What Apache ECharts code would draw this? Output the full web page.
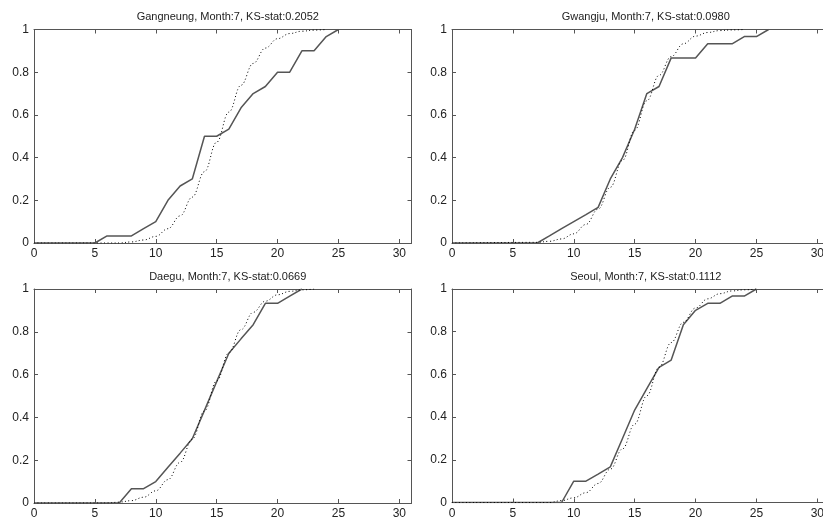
<!DOCTYPE html>
<html>
<head>
<meta charset="utf-8">
<title>KS test, Month 7</title>
<script src="https://cdn.jsdelivr.net/npm/echarts/dist/echarts.min.js"></script>
<style>
	html,body{margin:0;padding:0;background:#fff;}
	#main{width:823px;height:523px;}
</style>
</head>
<body>
<div id="main"></div>
<script>
// titles of the four sub plots
var titles = ['Gangneung, Month:7, KS-stat:0.2052', 'Gwangju, Month:7, KS-stat:0.0980',
	'Daegu, Month:7, KS-stat:0.0669', 'Seoul, Month:7, KS-stat:0.1112'];

var xTicks = [0, 5, 10, 15, 20, 25, 30];
var yTicks = [0, 0.2, 0.4, 0.6, 0.8, 1];

// empirical cdf (solid)
var gn_x = [0, 5, 6, 7, 8, 9, 10, 11, 12, 13, 14, 15, 16, 17, 18, 19, 20, 21, 22, 23, 24, 25];
var gn_y = [0, 0, 0.033, 0.033, 0.033, 0.067, 0.1, 0.2, 0.267, 0.3, 0.5, 0.5, 0.533, 0.633, 0.7, 0.733, 0.8, 0.8, 0.9, 0.9, 0.967, 1];
var gj_x = [0, 7, 8, 9, 10, 11, 12, 13, 14, 15, 16, 17, 18, 19, 20, 21, 22, 23, 24, 25, 26];
var gj_y = [0, 0, 0.033, 0.067, 0.1, 0.133, 0.167, 0.3, 0.4, 0.533, 0.7, 0.733, 0.867, 0.867, 0.867, 0.933, 0.933, 0.933, 0.967, 0.967, 1];
var dg_x = [0, 7, 8, 9, 10, 11, 12, 13, 14, 15, 16, 17, 18, 19, 20, 21, 22];
var dg_y = [0, 0, 0.067, 0.067, 0.1, 0.167, 0.233, 0.3, 0.433, 0.567, 0.7, 0.767, 0.833, 0.933, 0.933, 0.967, 1];
var so_x = [0, 9, 10, 11, 12, 13, 14, 15, 16, 17, 18, 19, 20, 21, 22, 23, 24, 25];
var so_y = [0, 0, 0.1, 0.1, 0.133, 0.167, 0.3, 0.433, 0.533, 0.633, 0.667, 0.833, 0.9, 0.933, 0.933, 0.967, 0.967, 1];

// fitted cdf (dotted)
var gn_fx = [0, 7, 8, 9, 10, 11, 12, 13, 14, 15, 16, 17, 18, 19, 20, 21, 22, 23, 24];
var gn_fy = [0, 0, 0.005, 0.014, 0.031, 0.067, 0.127, 0.215, 0.334, 0.472, 0.613, 0.739, 0.841, 0.913, 0.957, 0.981, 0.992, 0.997, 1];
var gj_fx = [0, 7, 8, 9, 10, 11, 12, 13, 14, 15, 16, 17, 18, 19, 20, 21, 22, 23, 24];
var gj_fy = [0, 0.003, 0.008, 0.019, 0.043, 0.087, 0.159, 0.261, 0.387, 0.528, 0.666, 0.785, 0.873, 0.933, 0.969, 0.986, 0.995, 0.998, 1];
var dg_fx = [0, 6, 7, 8, 9, 10, 11, 12, 13, 14, 15, 16, 17, 18, 19, 20, 21, 22, 23];
var dg_fy = [0, 0, 0.004, 0.011, 0.027, 0.057, 0.109, 0.19, 0.299, 0.43, 0.57, 0.701, 0.81, 0.891, 0.943, 0.973, 0.989, 0.996, 1];
var so_fx = [0, 8, 9, 10, 11, 12, 13, 14, 15, 16, 17, 18, 19, 20, 21, 22, 23, 24, 25];
var so_fy = [0, 0, 0.009, 0.022, 0.046, 0.089, 0.156, 0.251, 0.367, 0.5, 0.633, 0.749, 0.844, 0.911, 0.954, 0.978, 0.991, 0.996, 1];

function zip(a, b){
	var out = [];
	for (var i = 0; i < a.length; i++) out.push([a[i], b[i]]);
	return out;
}

var panels = [
	{title: titles[0], ex: gn_x, ey: gn_y, fx: gn_fx, fy: gn_fy},
	{title: titles[1], ex: gj_x, ey: gj_y, fx: gj_fx, fy: gj_fy},
	{title: titles[2], ex: dg_x, ey: dg_y, fx: dg_fx, fy: dg_fy},
	{title: titles[3], ex: so_x, ey: so_y, fx: so_fx, fy: so_fy}
];
// sub plot boxes (px) - the right column runs a little past the window edge
var boxes = [
	{left: 34, right: 411.5, top: 29.5, bottom: 243},
	{left: 452, right: 829.5, top: 29.5, bottom: 243},
	{left: 34, right: 411.5, top: 289, bottom: 503},
	{left: 452, right: 829.5, top: 289, bottom: 502.5}
];
var W = 823, H = 523;

var font = 'Liberation Sans, Arial, sans-serif';
var axisColor = '#555';

function e_chart(){
	var myChart = echarts.init(document.getElementById('main'));
	var option = {
		animation: false,
		backgroundColor: '#fff',
		title: [], grid: [], xAxis: [], yAxis: [], series: []
	};
	for (var i = 0; i < panels.length; i++) {
		var p = panels[i], b = boxes[i];
		option.title.push({
			text: p.title,
			left: (b.left + b.right) / 2,
			top: b.top - 23,
			textAlign: 'center',
			textStyle: {fontSize: 11, fontWeight: 'normal', color: '#222', fontFamily: font}
		});
		option.grid.push({
			left: b.left, right: W - b.right, top: b.top, bottom: H - b.bottom,
			containLabel: false, outerBoundsMode: 'none'			// let the box run past the edge
		});
		// bottom + top x axis
		for (var k = 0; k < 2; k++) {
			option.xAxis.push({
				gridIndex: i, type: 'value', min: 0, max: 31, interval: 5,
				position: k == 0 ? 'bottom' : 'top',
				axisLine: {show: true, onZero: false, lineStyle: {color: axisColor, width: 1}},
				axisTick: {show: true, inside: true, length: 4, lineStyle: {color: axisColor}},
				axisLabel: {
					show: k == 0, fontSize: 12, color: '#222', fontFamily: font, margin: 5,
					formatter: function(v){ return xTicks.indexOf(v) >= 0 ? String(v) : ''; }
				},
				splitLine: {show: false}
			});
		}
		// left + right y axis
		for (var k = 0; k < 2; k++) {
			option.yAxis.push({
				gridIndex: i, type: 'value', min: 0, max: 1, interval: 0.2,
				position: k == 0 ? 'left' : 'right',
				axisLine: {show: true, onZero: false, lineStyle: {color: axisColor, width: 1}},
				axisTick: {show: true, inside: true, length: 4, lineStyle: {color: axisColor}},
				axisLabel: {
					show: k == 0, fontSize: 12, color: '#222', fontFamily: font, margin: 5,
					formatter: function(v){
						for (var j = 0; j < yTicks.length; j++) if (Math.abs(v - yTicks[j]) < 1e-6) return String(yTicks[j]);
						return '';
					}
				},
				splitLine: {show: false}
			});
		}
		option.series.push({
			type: 'line', xAxisIndex: i * 2, yAxisIndex: i * 2,
			data: zip(p.ex, p.ey), showSymbol: false, silent: true,
			lineStyle: {color: '#555', width: 1.5}
		});
		option.series.push({
			type: 'line', xAxisIndex: i * 2, yAxisIndex: i * 2,
			data: zip(p.fx, p.fy), showSymbol: false, silent: true,
			smooth: 0.4, smoothMonotone: 'x',
			lineStyle: {color: '#000', width: 1, type: [1, 2.5]}
		});
	}
	myChart.setOption(option);
}

e_chart();
</script>
</body>
</html>
